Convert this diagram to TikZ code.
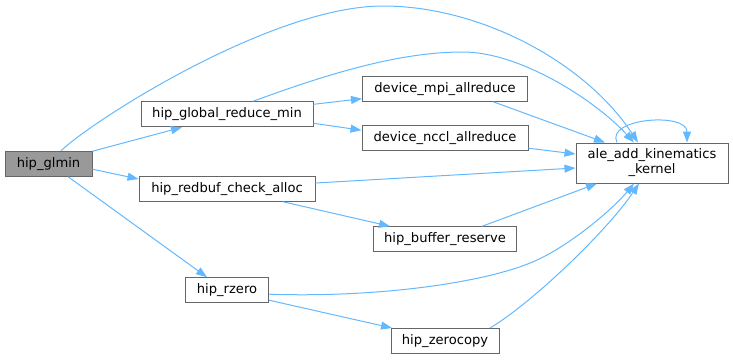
\documentclass[tikz,border=0pt]{standalone}
\usepackage{fontspec}
\setmainfont{DejaVu Sans}
\usetikzlibrary{arrows.meta,calc}
\definecolor{edgeblue}{HTML}{63B8FF}
\definecolor{boxborder}{HTML}{666666}
\definecolor{boxfill}{HTML}{999999}
\begin{document}
\begin{tikzpicture}[x=1pt,y=-1pt,
  fn/.style={draw=boxborder,line width=1pt,fill=white,inner sep=0pt,
    font=\fontsize{13.1}{15}\selectfont,align=center,minimum height=25pt},
  call/.style={draw=edgeblue,line width=1pt,
    -{Triangle[length=11pt,width=8pt,fill=edgeblue]}}]
\useasboundingbox (0,0) rectangle (733,359);

\node[fn,fill=boxfill,minimum width=87pt] (glmin) at (48.5,163.7) {hip\_glmin};
\node[fn,minimum width=172pt] (grm) at (227,114.3) {hip\_global\_reduce\_min};
\node[fn,minimum width=176pt,minimum height=24.5pt] (rca) at (227,189) {hip\_redbuf\_check\_alloc};
\node[fn,minimum width=165pt] (mpi) at (445,88.7) {device\_mpi\_allreduce};
\node[fn,minimum width=166pt] (nccl) at (445,138.2) {device\_nccl\_allreduce};
\node[fn,minimum width=152pt,minimum height=40pt] (ale) at (652,163) {ale\_add\_kinematics\\\_kernel};
\node[fn,minimum width=143pt] (hbr) at (445,239.3) {hip\_buffer\_reserve};
\node[fn,minimum width=83pt] (rz) at (227,290.2) {hip\_rzero};
\node[fn,minimum width=108pt] (zc) at (445,341) {hip\_zerocopy};

\draw[call] ($(glmin.north)+(12.5,0)$) .. controls (96,118) and (273,6) .. (383,6)
  .. controls (480,6) and (585,62) .. ($(ale.north)+(-14,0)$);
\draw[call] ($(grm.north)+(26,0)$) .. controls (330,73) and (400,52) .. (463,52)
  .. controls (520,52) and (595,100) .. ($(ale.north)+(-18,0)$);
\draw[call] ($(glmin.east)+(0,-12.5)$) -- ($(grm.south)+(-45,0)$);
\draw[call] ($(glmin.east)+(0,5.5)$) -- ($(rca.west)+(0,-10)$);
\draw[call] ($(glmin.south)+(19.5,0)$) -- ($(rz.north)+(-20,0)$);
\draw[call] ($(grm.east)+(0,-10)$) -- ($(mpi.west)+(0,10)$);
\draw[call] ($(grm.east)+(0,9)$) -- ($(nccl.west)+(0,-8)$);
\draw[call] ($(mpi.south)+(48,0)$) -- ($(ale.north)+(-47,0)$);
\draw[call] ($(nccl.east)+(0,10)$) -- ($(ale.west)+(0,-9)$);
\draw[call] ($(rca.east)+(0,-6)$) -- ($(ale.west)+(0,5)$);
\draw[call] ($(rca.south)+(56,0)$) -- ($(hbr.north)+(-55,0)$);
\draw[call] ($(hbr.north)+(37,0)$) -- ($(ale.south)+(-55,0)$);
\draw[call] ($(rz.east)+(0,4)$) .. controls (380,298) and (490,282) .. (537,260)
  .. controls (570,245) and (612,210) .. ($(ale.south)+(-18,0)$);
\draw[call] ($(rz.east)+(0,10)$) -- ($(zc.north)+(-53,0)$);
\draw[call] ($(zc.north)+(45,0)$) .. controls (532,303) and (607,231) .. ($(ale.south)+(-13,0)$);
\draw[call] ($(ale.north)+(-35,0)$) .. controls (605,118) and (687,112) .. ($(ale.north)+(35,0)$);
\end{tikzpicture}
\end{document}
